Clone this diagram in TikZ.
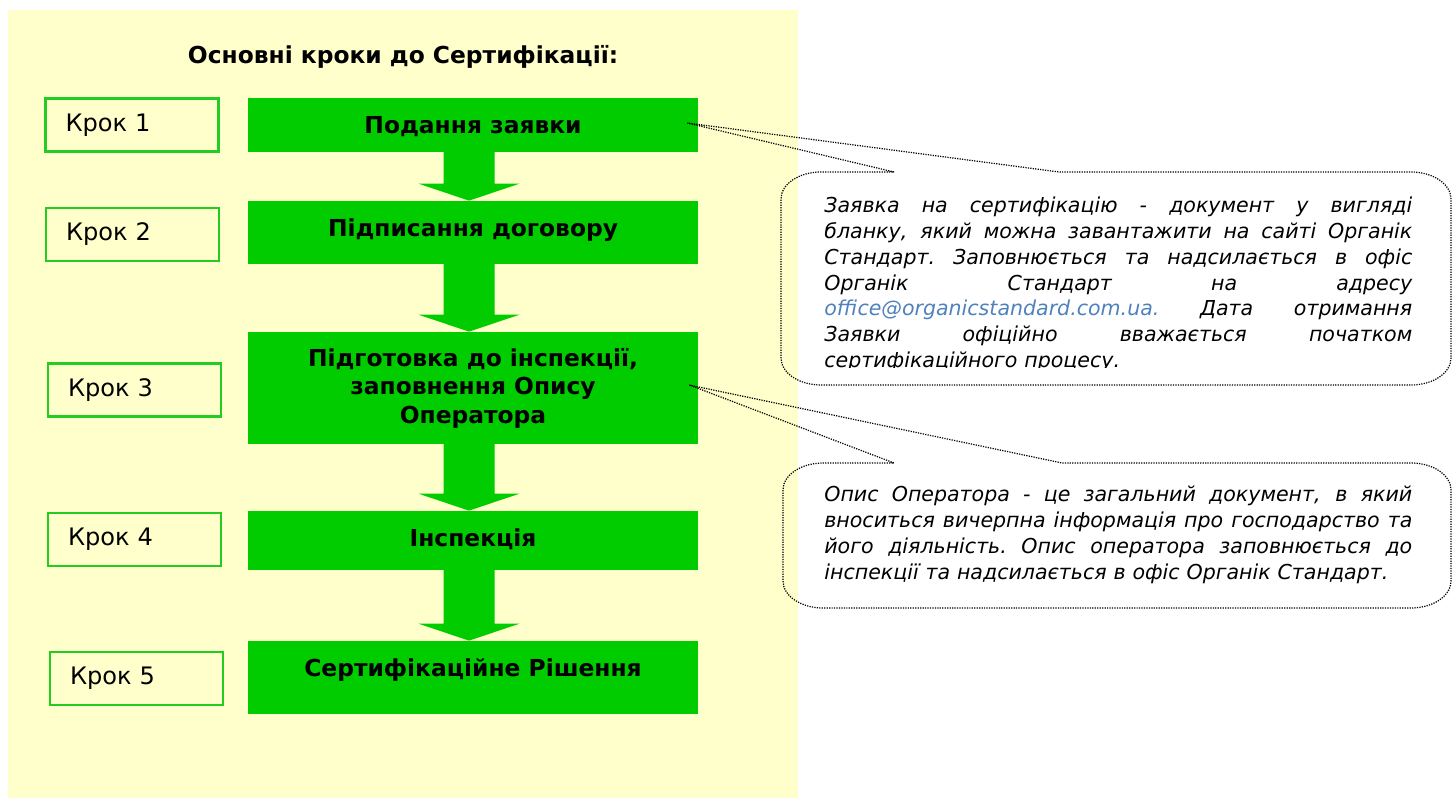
\documentclass[tikz,border=0pt]{standalone}
\usepackage{fontspec}
\setmainfont{DejaVu Sans}[ItalicFont={DejaVu Sans Oblique}, BoldFont={DejaVu Sans Bold}, BoldItalicFont={DejaVu Sans Bold Oblique}]
\usepackage{xcolor}
\usepackage{tikz}
\usetikzlibrary{calc}

\definecolor{stagegreen}{HTML}{00CC00}
\definecolor{bgyellow}{HTML}{FFFFCC}
\definecolor{kroklines}{HTML}{22CC22}
\definecolor{maillink}{HTML}{4F81BD}
% one justified line of a note
\newcommand{\jline}[1]{\makebox[11.76cm][s]{\spaceskip=\fontdimen2\font plus 1fil\relax\xspaceskip=\spaceskip #1}\\}

\begin{document}
\begin{tikzpicture}[
    x=0.02cm, y=-0.02cm,
    krokbox/.style={draw=kroklines, line width=1.4pt, fill=bgyellow, text width=2.66cm, inner xsep=0.4cm, inner ysep=0pt, minimum height=1.06cm, align=left, font=\fontsize{13.7}{16}\selectfont},
    stagebox/.style={fill=stagegreen, minimum width=9cm, inner xsep=0pt, inner ysep=0pt, align=center, font=\fontsize{13.3}{16.2}\selectfont\bfseries},
    stagetop/.style={text height=0.71cm, text depth=#1},
    blockarrow/.style={fill=stagegreen},
    callout/.style={draw=black, dash pattern=on 0.7pt off 0.7pt, line width=0.7pt},
    notetext/.style={text width=11.76cm, inner sep=0pt, align=left, anchor=north west, font=\fontsize{11.7}{14.75}\selectfont\itshape},
]
\useasboundingbox (0,0) rectangle (1453,800);

% ========== Background and title ==========
\fill[bgyellow] (8,10) rectangle (798,798);
\node[font=\fontsize{13.3}{16}\selectfont\bfseries] (title) at (403,57) {Основні кроки до Сертифікації:};

% ========== Steps ==========
\foreach \i/\x/\y in {1/132/125, 2/132.5/234.5, 3/134.5/390, 4/134.5/539.5, 5/136.5/678.5} {
    \node[krokbox] (krok\i) at (\x,\y) {Крок \i};
}

\node[stagebox, stagetop=0.37cm] (stage1) at (473,125) {Подання заявки};
\node[stagebox, stagetop=0.55cm] (stage2) at (473,232.5) {Підписання договору};
\node[stagebox, minimum height=2.24cm] (stage3) at (473,388) {Підготовка до інспекції,\\заповнення Опису\\Оператора};
\node[stagebox, stagetop=0.47cm] (stage4) at (473,540.5) {Інспекція};
\node[stagebox, stagetop=0.75cm] (stage5) at (473,677.5) {Сертифікаційне Рішення};

% Block arrows between stages
\foreach \a/\b in {stage1/stage2, stage2/stage3, stage3/stage4, stage4/stage5} {
    \fill[blockarrow] ($(\a.south)+(-29.5,-1)$) -- ($(\a.south)+(21.5,-1)$) -- ($(\b.north)+(21.5,-17)$)
        -- ($(\b.north)+(46.5,-17)$) -- ($(\b.north)+(-4,0)$) -- ($(\b.north)+(-54.5,-17)$)
        -- ($(\b.north)+(-29.5,-17)$) -- cycle;
}

% ========== Callouts ==========
\coordinate (tip1) at ($(stage1.east)+(-11,-2)$);
\coordinate (tip2) at ($(stage3.east)+(-9,-3)$);

\draw[callout] (894,172) -- (tip1) -- (1059,172) -- (1411,172)
    arc[start angle=90, end angle=0, x radius=0.8cm, y radius=0.54cm] -- (1451,358)
    arc[start angle=0, end angle=-90, x radius=0.8cm, y radius=0.54cm] -- (821,385)
    arc[start angle=270, end angle=180, x radius=0.8cm, y radius=0.54cm] -- (781,199)
    arc[start angle=180, end angle=90, x radius=0.8cm, y radius=0.54cm] -- cycle;

\draw[callout] (894,463) -- (tip2) -- (1062,463) -- (1411,463)
    arc[start angle=90, end angle=0, x radius=0.8cm, y radius=0.54cm] -- (1451,581)
    arc[start angle=0, end angle=-90, x radius=0.8cm, y radius=0.54cm] -- (823,608)
    arc[start angle=270, end angle=180, x radius=0.8cm, y radius=0.54cm] -- (783,490)
    arc[start angle=180, end angle=90, x radius=0.8cm, y radius=0.54cm] -- cycle;

% note texts (the first one is cut off at the bottom)
\begin{scope}
    \clip (800,150) rectangle (1453,367);
    \node[notetext] (note1) at (824,193.8) {\strut\jline{Заявка на сертифікацію - документ у вигляді}
        \jline{бланку, який можна завантажити на сайті Органік}
        \jline{Стандарт. Заповнюється та надсилається в офіс}
        \jline{Органік Стандарт на адресу}
        \jline{{\color{maillink}office@organicstandard.com.ua.} Дата отримання}
        \jline{Заявки офіційно вважається початком}
        сертифікаційного процесу.};
\end{scope}

\node[notetext] (note2) at (824,482.8) {\strut\jline{Опис Оператора - це загальний документ, в який}
    \jline{вноситься вичерпна інформація про господарство та}
    \jline{його діяльність. Опис оператора заповнюється до}
    інспекції та надсилається в офіс Органік Стандарт.};

\end{tikzpicture}
\end{document}
